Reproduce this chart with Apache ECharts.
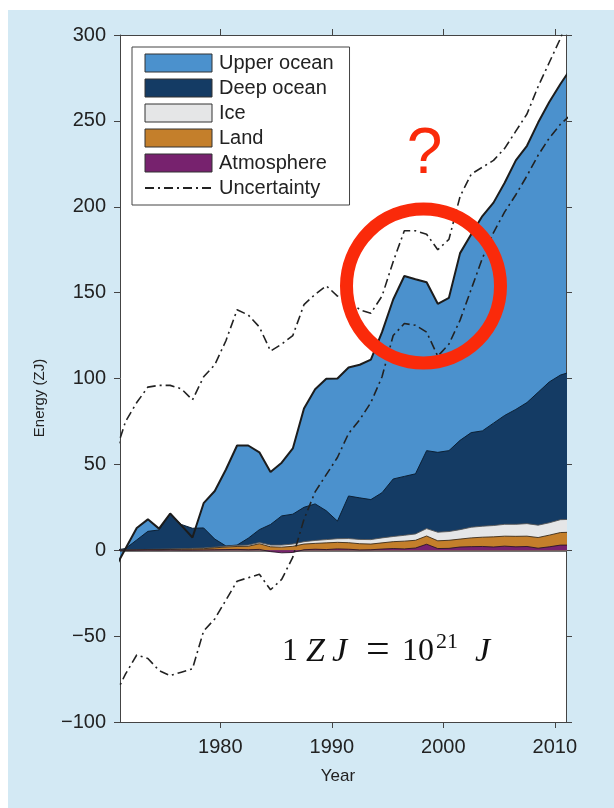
<!DOCTYPE html>
<html><head><meta charset="utf-8">
<script src="https://cdn.jsdelivr.net/npm/echarts@6/dist/echarts.min.js"></script>
<style>
html,body{margin:0;padding:0;background:#fff;}
#bg{position:absolute;left:8px;top:10px;width:606px;height:798px;background:#d3e9f4;}
#main{position:absolute;left:0;top:0;width:614px;height:808px;}
</style>
</head><body><div id="bg"></div><div id="main"></div>
<script>
// Annual (mid-year) values, ZJ, relative to 1971
const years = [1970.5,1971.5,1972.5,1973.5,1974.5,1975.5,1976.5,1977.5,1978.5,1979.5,
  1980.5,1981.5,1982.5,1983.5,1984.5,1985.5,1986.5,1987.5,1988.5,1989.5,
  1990.5,1991.5,1992.5,1993.5,1994.5,1995.5,1996.5,1997.5,1998.5,1999.5,
  2000.5,2001.5,2002.5,2003.5,2004.5,2005.5,2006.5,2007.5,2008.5,2009.5,
  2010.5,2011.5];
const upperOcean = [-11,0,7,7,0.8,0.4,-0.5,-5.4,14.4,28,
  44.5,58,54,45,30.6,31,38.3,57.5,66.7,76.8,
  83,74.8,77.5,81.5,93.5,104.5,116.7,113.3,98,86.5,
  89,109,115.5,125.1,128.4,135.5,145,149.5,157,163,
  169.5,177];
const deepOcean = [0,0.8,5.7,10.5,11.2,20.2,14.1,11.7,11.7,4.7,
  0.1,0.2,4,7.5,12,17,17.4,20,21.3,16.8,
  10.3,24.8,24.2,23.3,26.3,33.5,34.3,35,45.4,46.5,
  47.1,52,55.1,55.5,59.6,63.4,66.9,70.5,77.4,82,
  84.2,86];
const ice = [0,0.1,0.1,0.2,0.2,0.3,0.3,0.4,0.4,0.4,
  0.5,0.6,0.7,0.7,1.0,1.2,1.3,1.4,1.7,1.9,
  2.1,2.4,2.5,2.6,2.9,3.0,3.4,3.7,4.3,5.0,
  5.1,5.5,6.2,6.4,6.6,6.9,7.0,7.3,7.2,7.2,
  7.5,7.5];
const land = [0,0.1,0.1,0.1,0.3,0.3,0.5,0.6,0.7,1.1,
  1.5,1.7,2.0,3.3,2.8,3.3,3.6,3.3,3.4,3.9,
  3.8,3.8,3.6,3.3,3.6,4.0,4.5,4.5,4.8,4.5,
  4.7,4.6,5.1,5.4,5.9,5.8,6.1,6.0,6.2,6.8,
  7.3,7.5];
const atmosphere = [0,0,0.1,0.2,0.1,0.2,0.1,0.1,0.2,0.3,
  0.4,0.5,0.3,0.5,-0.8,-1.5,-1.3,0.3,0.6,0.4,
  0.8,0.6,0.2,0.3,0.7,1.0,0.8,1.3,3.5,1.0,
  1.1,1.9,2.1,2.2,1.9,2.4,2.0,2.2,1.2,2.0,
  3.0,3.0];
const uncertaintyHigh = [55,75,86,95,96,96,94,87.5,101,108,
  122,140,137,130,116,120,125,143,149,154,
  148,146,140,138,148,168,186,186,184,175,
  181,206,219,223,227,234,244,254,270,284,
  298,315];
const uncertaintyLow = [-85,-72,-61,-63,-70,-73,-71,-69,-47,-40,
  -29,-18,-16,-14,-23,-17,-4,18,34,44,
  54,68,76,86,101,125,132,131,127,113,
  120,134,152,170,185,197,207,218,230,240,
  248,254];
const xTicks = [1980,1990,2000,2010];

const colors = {upper:'#4b91cd', deep:'#143b64', ice:'#e5e6e7', land:'#c47f2b', atmos:'#77226e'};
const FONT = '"Liberation Sans", Arial, sans-serif';
const SERIF = '"Liberation Serif", "Times New Roman", serif';

function cum(...arrs){ return arrs[0].map((_,i)=>Math.round(arrs.reduce((s,a)=>s+a[i],0)*100)/100); }
const topA = cum(atmosphere);
const topL = cum(atmosphere, land);
const topI = cum(atmosphere, land, ice);
const topD = cum(atmosphere, land, ice, deepOcean);
const topT = cum(atmosphere, land, ice, deepOcean, upperOcean);
const pairs = arr => years.map((y,i)=>[y, arr[i]]);

function areaSeries(name, arr, color, lineColor, lw, z){
  return {name, type:'line', data:pairs(arr), symbol:'none', z,
    itemStyle:{color}, lineStyle:{color:lineColor, width:lw},
    areaStyle:{color, opacity:1}, clip:true};
}

const chart = echarts.init(document.getElementById('main'), null, {renderer:'canvas'});
const axisCol = '#444';
const dashDot = [9,4,2,4];
chart.setOption({
  animation:false,
  grid:{left:120, top:35, width:446, height:687, show:true, backgroundColor:'#fff', borderWidth:0},
  xAxis:[
    {type:'value', min:1971, max:2011, position:'bottom',
     axisLine:{show:true, onZero:false, lineStyle:{color:axisCol, width:1}},
     axisTick:{show:true, length:6, customValues:xTicks, lineStyle:{color:axisCol}},
     axisLabel:{customValues:xTicks, fontSize:20, color:'#222', fontFamily:FONT, margin:15,
       formatter:v=>String(v)},
     splitLine:{show:false}},
    {type:'value', min:1971, max:2011, position:'top',
     axisLine:{show:true, onZero:false, lineStyle:{color:axisCol, width:1}},
     axisTick:{show:true, length:6, customValues:xTicks, lineStyle:{color:axisCol}},
     axisLabel:{show:false}, splitLine:{show:false}}
  ],
  yAxis:[
    {type:'value', min:-100, max:300, interval:50, position:'left',
     axisLine:{show:true, onZero:false, lineStyle:{color:axisCol, width:1}},
     axisTick:{show:true, length:6, lineStyle:{color:axisCol}},
     axisLabel:{fontSize:20, color:'#222', fontFamily:FONT, margin:14,
       formatter:v=> v<0 ? '\u2212'+Math.abs(v) : String(v)},
     splitLine:{show:false}},
    {type:'value', min:-100, max:300, interval:50, position:'right',
     axisLine:{show:true, onZero:false, lineStyle:{color:axisCol, width:1}},
     axisTick:{show:true, length:6, lineStyle:{color:axisCol}},
     axisLabel:{show:false}, splitLine:{show:false}}
  ],
  legend:{
    left:132, top:47, orient:'vertical', itemWidth:67, itemHeight:18, itemGap:5,
    padding:[6,16,7,12], borderColor:'#444', borderWidth:1, backgroundColor:'#fff',
    selectedMode:false,
    textStyle:{fontSize:20, fontFamily:FONT, color:'#222', padding:[0,0,0,2]},
    data:[
      {name:'Upper ocean', icon:'rect', itemStyle:{color:colors.upper, borderColor:'#333', borderWidth:1}},
      {name:'Deep ocean', icon:'rect', itemStyle:{color:colors.deep, borderColor:'#333', borderWidth:1}},
      {name:'Ice', icon:'rect', itemStyle:{color:colors.ice, borderColor:'#333', borderWidth:1}},
      {name:'Land', icon:'rect', itemStyle:{color:colors.land, borderColor:'#333', borderWidth:1}},
      {name:'Atmosphere', icon:'rect', itemStyle:{color:colors.atmos, borderColor:'#333', borderWidth:1}},
      {name:'Uncertainty', itemStyle:{opacity:0}, lineStyle:{color:'#222', width:2, type:dashDot}}
    ]
  },
  series:[
    areaSeries('Upper ocean', topT, colors.upper, colors.upper, 0, 2),
    areaSeries('Deep ocean', topD, colors.deep, '#0c2035', 1, 3),
    areaSeries('Ice', topI, colors.ice, '#555', 0.9, 4),
    areaSeries('Land', topL, colors.land, '#3a2a18', 0.9, 5),
    areaSeries('Atmosphere', topA, colors.atmos, '#2a1628', 0.9, 6),
    {name:'total-outline', type:'line', data:pairs(topT), symbol:'none', z:7, clip:true,
     lineStyle:{color:'#1c1c1c', width:2},
     markLine:{silent:true, symbol:'none', label:{show:false},
       lineStyle:{color:axisCol, width:1.5, type:'solid'}, data:[{yAxis:0}]}},
    {name:'Uncertainty', type:'line', data:pairs(uncertaintyHigh), symbol:'none', z:8, clip:true,
     itemStyle:{color:'#222'}, lineStyle:{color:'#222', width:1.6, type:dashDot}},
    {name:'Uncertainty', type:'line', data:pairs(uncertaintyLow), symbol:'none', z:8, clip:true,
     itemStyle:{color:'#222'}, lineStyle:{color:'#222', width:1.6, type:dashDot}}
  ],
  graphic:[
    {type:'text', x:40, y:398, rotation:Math.PI/2, z:100,
     style:{text:'Energy (ZJ)', fill:'#222', font:'15px '+FONT, align:'center', verticalAlign:'middle'}},
    {type:'text', x:338, y:776, z:100,
     style:{text:'Year', fill:'#222', font:'17px '+FONT, align:'center', verticalAlign:'middle'}},
    {type:'circle', z:100, shape:{cx:423.5, cy:286, r:77},
     style:{fill:'none', stroke:'#fa2a0a', lineWidth:13}},
    {type:'text', x:424.5, y:155, z:100,
     style:{text:'?', fill:'#fa2a0a', font:'64px '+FONT, align:'center', verticalAlign:'middle'}},
    {type:'text', x:282, y:652, z:100, style:{text:'1', fill:'#111', font:'32px '+SERIF, align:'left', verticalAlign:'middle'}},
    {type:'text', x:306, y:652, z:100, style:{text:'Z', fill:'#111', font:'italic 34px '+SERIF, align:'left', verticalAlign:'middle'}},
    {type:'text', x:332, y:652, z:100, style:{text:'J', fill:'#111', font:'italic 34px '+SERIF, align:'left', verticalAlign:'middle'}},
    {type:'text', x:366, y:651, z:100, style:{text:'=', fill:'#111', font:'42px '+SERIF, align:'left', verticalAlign:'middle'}},
    {type:'text', x:402, y:652, z:100, style:{text:'10', fill:'#111', font:'32px '+SERIF, align:'left', verticalAlign:'middle'}},
    {type:'text', x:436, y:642, z:100, style:{text:'21', fill:'#111', font:'22px '+SERIF, align:'left', verticalAlign:'middle'}},
    {type:'text', x:475, y:652, z:100, style:{text:'J', fill:'#111', font:'italic 34px '+SERIF, align:'left', verticalAlign:'middle'}}
  ]
});
</script>
</body></html>
